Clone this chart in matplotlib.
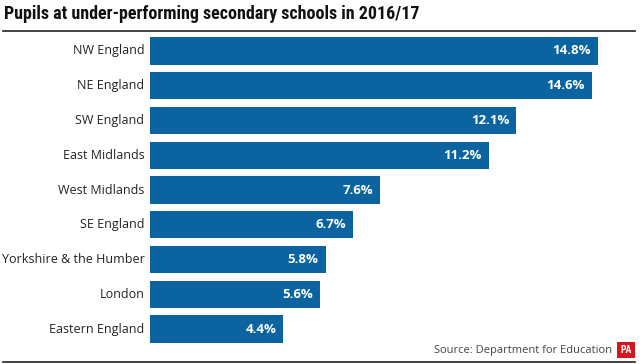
import matplotlib.pyplot as plt
from matplotlib.lines import Line2D
from matplotlib import font_manager

regions = ['NW England', 'NE England', 'SW England', 'East Midlands', 'West Midlands',
           'SE England', 'Yorkshire & the Humber', 'London', 'Eastern England']
values = [14.8, 14.6, 12.1, 11.2, 7.6, 6.7, 5.8, 5.6, 4.4]
labels = ['14.8%', '14.6%', '12.1%', '11.2%', '7.6%', '6.7%', '5.8%', '5.6%', '4.4%']

BAR = '#0b63a0'
names = {f.name for f in font_manager.fontManager.ttflist}
narrow = next((n for n in ['Roboto Condensed', 'Liberation Sans Narrow', 'Open Sans Condensed']
               if n in names), 'Roboto')
plt.rcParams['font.family'] = ['Open Sans', 'DejaVu Sans']

W, H = 640, 364
fig = plt.figure(figsize=(W / 100, H / 100), dpi=100)
ax = fig.add_axes([150 / W, 1 - 346.4 / H, 485 / W, (346.4 - 33.6) / H])

ypos = list(range(len(regions)))
ax.barh(ypos, values, height=0.78, color=BAR)
ax.set_ylim(len(regions) - 0.5, -0.5)
ax.set_xlim(0, 485 / 30.27)
ax.axis('off')

for y, v, lab, name in zip(ypos, values, labels, regions):
    ax.annotate(lab, (v, y), xytext=(-5, 0), textcoords='offset points',
                ha='right', va='center', color='white', fontsize=9.5,
                fontweight='bold')
    ax.annotate(name, (0, y), xytext=(-4, 0), textcoords='offset points',
                ha='right', va='center', color='#222222', fontsize=9)

title_size = 13 if narrow != 'Roboto' else 11.5
fig.text(4 / W, 1 - 14 / H, 'Pupils at under-performing secondary schools in 2016/17',
         ha='left', va='center', fontsize=title_size, fontweight='bold',
         family=narrow, color='#111111')

fig.add_artist(Line2D([3 / W, 635 / W], [1 - 30.5 / H] * 2, color='#222222', lw=1.2))
fig.add_artist(Line2D([3 / W, 635 / W], [1 - 361.5 / H] * 2, color='#222222', lw=1.2))

fig.text(612 / W, 1 - 350 / H, 'Source: Department for Education', ha='right',
         va='center', fontsize=8, color='#444444')
fig.text(626 / W, 1 - 350 / H, 'PA', ha='center', va='center', fontsize=7,
         fontweight='bold', color='white', family=narrow,
         bbox=dict(boxstyle='square,pad=0.35', facecolor='#d7141e', edgecolor='none'))

fig.savefig('out.png', dpi=100)
